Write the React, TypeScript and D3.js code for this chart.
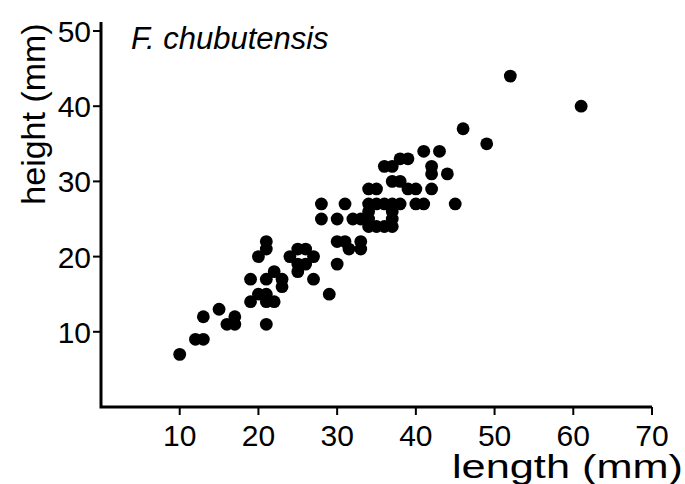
import React from "react";
import * as d3 from "d3";

const lengths = [10, 12, 13, 13, 15, 16, 17, 17, 19, 19, 20, 20, 21, 21, 21, 21, 21, 21, 22, 22, 23, 23, 24, 25, 26, 27, 26, 25, 25, 27, 29, 28, 28, 30, 30, 31, 31.5, 30, 31, 32, 33, 33, 34, 35, 34, 35, 36, 37, 38, 34, 37, 33, 34, 37, 34, 35, 36, 37, 36, 37, 38, 39, 37, 38, 39, 40, 42, 40, 41, 41, 43, 42, 42, 44, 45, 46, 49, 52, 61];
const heights = [7, 9, 9, 12, 13, 11, 11, 12, 14, 17, 15, 20, 22, 21, 17, 15, 14, 11, 18, 14, 17, 16, 20, 21, 21, 20, 19, 19, 18, 17, 15, 27, 25, 25, 22, 22, 21, 19, 27, 25, 22, 21, 29, 29, 27, 27, 27, 27, 27, 26, 26, 25, 25, 25, 24, 24, 24, 24, 32, 32, 33, 33, 30, 30, 29, 29, 29, 27, 27, 34, 34, 32, 31, 31, 27, 37, 35, 44, 40];
const xTicks = [10, 20, 30, 40, 50, 60, 70];
const yTicks = [10, 20, 30, 40, 50];
const title = "F. chubutensis";
const xLabel = "length (mm)";
const yLabel = "height (mm)";

export default function App() {
  const W = 685, H = 484;
  const x = d3.scaleLinear().domain([0, 70]).range([101, 652]);
  const y = d3.scaleLinear().domain([0, 50]).range([407, 31]);
  const font = "'Liberation Sans', Arial, Helvetica, sans-serif";
  const pts = lengths.map((l, i) => ({ l, h: heights[i] }));
  return (
    <svg width={W} height={H} style={{ position: "absolute", left: 0, top: 0, background: "#fff" }} fontFamily={font}>
      <rect width={W} height={H} fill="#fff" />
      <path d={`M${x(0)},22 V${y(0)} H${x(70)}`} fill="none" stroke="#000" strokeWidth={3} />
      {yTicks.map((t) => (
        <g key={"y" + t}>
          <line x1={x(0) - 8} x2={x(0)} y1={y(t)} y2={y(t)} stroke="#000" strokeWidth={2} />
          <text x={x(0) - 10} y={y(t) + 11} fontSize={30} textAnchor="end">{t}</text>
        </g>
      ))}
      {xTicks.map((t) => (
        <g key={"x" + t}>
          <line x1={x(t)} x2={x(t)} y1={y(0)} y2={y(0) + 8} stroke="#000" strokeWidth={2} />
          <text x={x(t)} y={446} fontSize={30} textAnchor="middle">{t}</text>
        </g>
      ))}
      {pts.map((p, i) => (
        <circle key={i} cx={x(p.l)} cy={y(p.h)} r={6.4} fill="#000" />
      ))}
      <text x={131} y={49} fontSize={31} fontStyle="italic">{title}</text>
      <text x={452} y={478} fontSize={34} textLength={231} lengthAdjust="spacingAndGlyphs">{xLabel}</text>
      <text transform={`translate(45,114) rotate(-90)`} fontSize={34} textAnchor="middle">{yLabel}</text>
    </svg>
  );
}
